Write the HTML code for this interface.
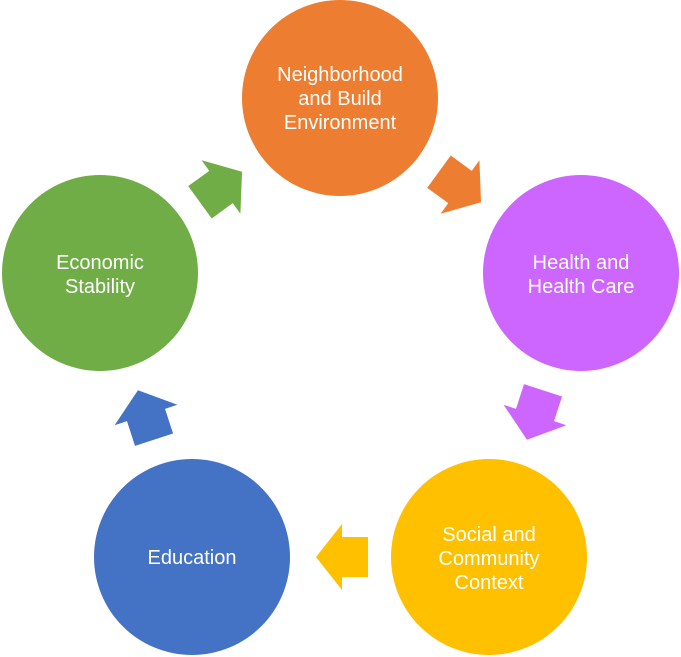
<!DOCTYPE html>
<html><head><style>body{margin:0;background:#fff}svg{display:block}</style></head><body>
<svg width="681" height="657" viewBox="0 0 681 657" font-family="'Liberation Sans',sans-serif" font-size="20" fill="#fff" text-anchor="middle">
<defs><polygon id="a" points="26,0 0,-33 0,-20 -26,-20 -26,20 0,20 0,33"/></defs>
<circle cx="340" cy="98" r="98" fill="#ED7D31"/>
<circle cx="581" cy="273" r="98" fill="#CC66FF"/>
<circle cx="489" cy="557" r="98" fill="#FFC000"/>
<circle cx="192" cy="557" r="98" fill="#4472C4"/>
<circle cx="100" cy="273" r="98" fill="#70AD47"/>
<use href="#a" fill="#ED7D31" transform="translate(460,187) rotate(36)"/>
<use href="#a" fill="#CC66FF" transform="translate(535,415) rotate(108)"/>
<use href="#a" fill="#FFC000" transform="translate(342,557) rotate(180)"/>
<use href="#a" fill="#4472C4" transform="translate(146,415) rotate(252)"/>
<use href="#a" fill="#70AD47" transform="translate(221,187) rotate(-36)"/>
<text x="340" y="81">Neighborhood</text><text x="340" y="105">and Build</text><text x="340" y="129">Environment</text>
<text x="581" y="269">Health and</text><text x="581" y="293">Health Care</text>
<text x="489" y="541">Social and</text><text x="489" y="565">Community</text><text x="489" y="589">Context</text>
<text x="192" y="564">Education</text>
<text x="100" y="269">Economic</text><text x="100" y="293">Stability</text>
</svg>
</body></html>
